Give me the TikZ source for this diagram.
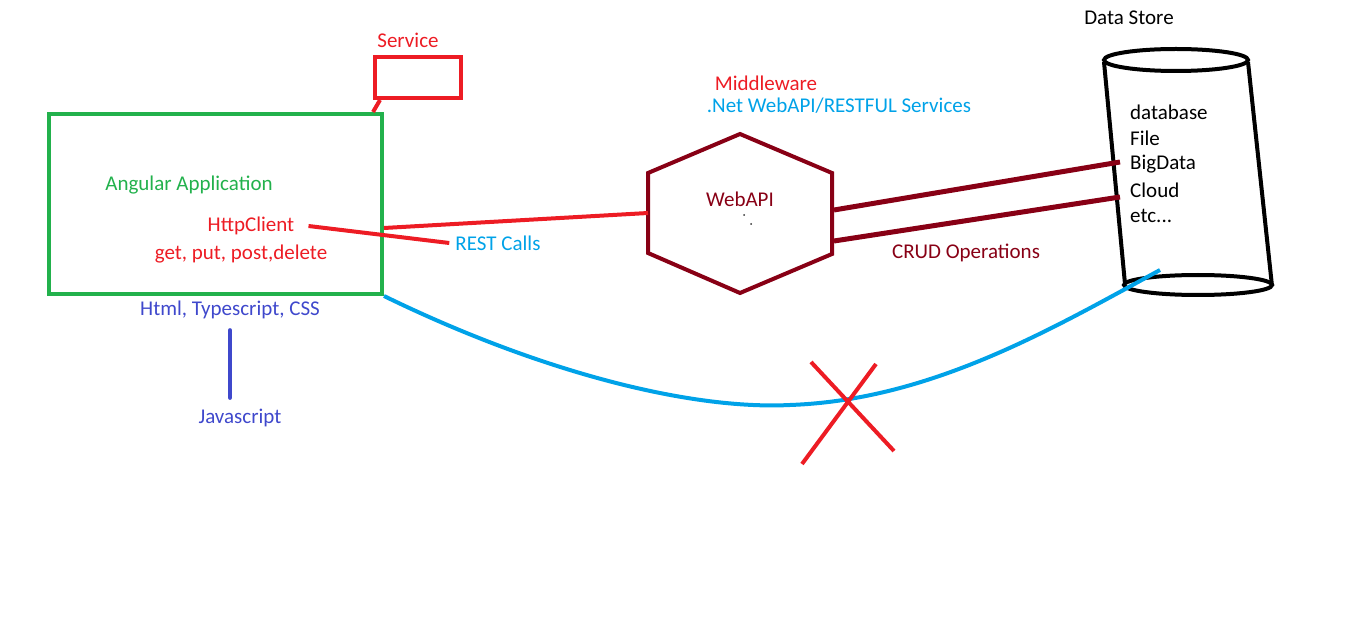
\documentclass[tikz,border=0pt]{standalone}
\usepackage{fontspec}
\setmainfont{Carlito}
\usepackage{tikz}
\usepackage{color}

\definecolor{appgreen}{HTML}{22B14C}
\definecolor{callred}{HTML}{ED1C24}
\definecolor{restblue}{HTML}{00A2E8}
\definecolor{techblue}{HTML}{3F48CC}
\definecolor{apired}{HTML}{880015}

\tikzset{
	txt/.style={font=\fontsize{21}{25}\selectfont, inner sep=0pt},
	boxline/.style={line width=4pt, inner sep=0pt},
	thickline/.style={line width=4pt},
	storeline/.style={line width=4pt, black}
}

\begin{document}
\begin{tikzpicture}[x=1pt,y=-1pt]
	\useasboundingbox (0,0) rectangle (1360,628);

	\node[boxline, draw=appgreen, minimum width=333pt, minimum height=180pt] (app) at (215.5,204) {};
	\node[txt, text=appgreen] (angular) at (189,185) {Angular Application};
	\node[txt, text=callred] (http) at (251,226) {HttpClient};
	\node[txt, text=callred] (verbs) at (241,254) {get, put, post,delete};
	\node[txt, text=techblue] (html) at (230,310) {Html, Typescript, CSS};
	\node[txt, text=techblue] (js) at (240,418) {Javascript};
	\draw[thickline, techblue, line cap=round, shorten <=11pt, shorten >=11pt] (html.south) -- (html.south |- js.north);

	\node[boxline, draw=callred, minimum width=86pt, minimum height=41pt] (service) at (418,77.5) {};
	\node[txt, text=callred] (servicetxt) at (408,40) {Service};
	\draw[thickline, callred] ([xshift=7pt]service.south west) -- ([xshift=-11pt]app.north east);

	\node[txt, text=restblue] (rest) at (498,243) {REST Calls};

	\node[txt, text=callred] (middle) at (766,83) {Middleware};
	\node[txt, text=restblue] (dotnet) at (839,106) {.Net WebAPI/RESTFUL Services};
	\draw[thickline, apired] (740,134)--(832,173)--(832,254)--(740,293)--(648,253)--(648,173)--cycle;
	\node[txt, text=apired] (api) at (740,199) {WebAPI};
	\fill[black!80] (744,215) circle (1) (751,224) circle (1);
	\coordinate (apiw) at (648,213);
	\coordinate (apie1) at (834,210);
	\coordinate (apie2) at (834,241);
	\node[txt, text=apired] (crud) at (966,253) {CRUD Operations};

	\draw[thickline, callred] ([xshift=14pt]http.east) -- ([xshift=-6pt]rest.west);
	\draw[thickline, callred] ([yshift=-24pt]app.east) -- (apiw);

	\node[txt] (store) at (1129,18) {Data Store};
	\draw[storeline] (1176,60) ellipse [x radius=72, y radius=11];
	\draw[storeline] (1104,62)--(1125,284);
	\draw[storeline] (1248,62)--(1272,286);
	\draw[storeline] (1198,285) ellipse [x radius=74, y radius=10];
	\node[txt, anchor=west] (db) at (1130,112) {database};
	\node[txt, anchor=west] (file) at (1130,138) {File};
	\node[txt, anchor=west] (big) at (1130,164) {BigData};
	\node[txt, anchor=west] (cloud) at (1130,190) {Cloud};
	\node[txt, anchor=west] (etc) at (1130,216) {etc...};
	\coordinate (storein) at (1160,270);

	\draw[line width=5pt, apired] (apie1) -- ([xshift=-10pt,yshift=2pt]big.west);
	\draw[line width=5pt, apired] (apie2) -- ([xshift=-10pt,yshift=-7pt]cloud.west);

	\draw[thickline, restblue] (app.south east) .. controls (540,372) and (690,410) .. (790,405) .. controls (930,400) and (1050,330) .. (storein);

	\draw[thickline, callred] (811,362)--(894,451);
	\draw[thickline, callred] (876,364)--(802,464);
\end{tikzpicture}
\end{document}
